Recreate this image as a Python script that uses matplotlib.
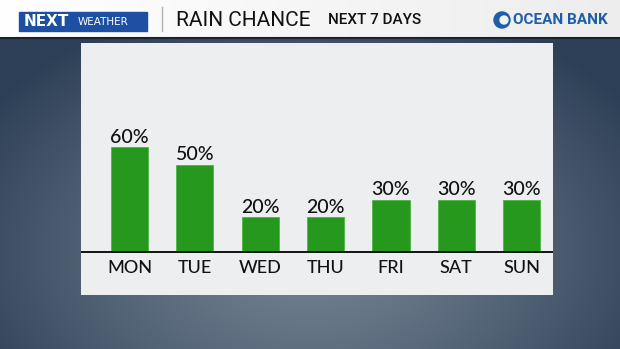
import matplotlib
matplotlib.use("Agg")
from matplotlib import pyplot as plt
from matplotlib.patches import Rectangle, Circle
import numpy as np

days = ["MON", "TUE", "WED", "THU", "FRI", "SAT", "SUN"]
chance = [60, 50, 20, 20, 30, 30, 30]
title = "RAIN CHANCE"
subtitle = "NEXT 7 DAYS"

W, H = 620, 349
fig = plt.figure(figsize=(W / 100, H / 100), dpi=100)

# background: slate blue, darker at the top, lighter in the middle
bg = fig.add_axes([0, 0, 1, 1])
yy, xx = np.mgrid[0:H, 0:W]
d = np.sqrt(((xx - 310) / 380) ** 2 + ((yy - 250) / 260) ** 2)
t = np.clip(d, 0, 1) ** 1.3
c_in = np.array([0.45, 0.51, 0.57])
c_out = np.array([0.18, 0.25, 0.34])
img = c_in[None, None, :] * (1 - t[..., None]) + c_out[None, None, :] * t[..., None]
bg.imshow(img, extent=[0, W, H, 0], aspect="auto")
bg.set_xlim(0, W)
bg.set_ylim(H, 0)
bg.axis("off")

# header band
hdr = np.linspace(1.0, 0.93, W)
hdr_img = np.tile(hdr, (37, 1))
bg.imshow(np.dstack([hdr_img] * 3), extent=[0, W, 37, 0], aspect="auto")
bg.plot([0, W], [37.5, 37.5], color="#1a2230", lw=1.5)
bg.add_patch(Rectangle((19, 12), 128, 19, color="#1d4fa3"))
bg.text(24, 21.5, "NEXT", color="white", fontsize=11, fontweight="bold",
        family="DejaVu Sans", va="center", ha="left")
bg.text(78, 22, "WEATHER", color="white", fontsize=7.5, family="DejaVu Sans",
        va="center", ha="left")
bg.plot([162, 162], [7, 31], color="#b0b0b0", lw=1)
bg.text(176, 20, title, color="#111111", fontsize=15, family="Roboto",
        va="center", ha="left")
bg.text(328, 20, subtitle, color="#111111", fontsize=11, family="Roboto",
        fontweight="medium", va="center", ha="left")
bg.add_patch(Circle((502, 20), 8, color="#1e5ea8"))
bg.add_patch(Circle((504, 20), 4, color="#f2f2f2"))
bg.text(513, 20, "OCEAN BANK", color="#1e5ea8", fontsize=11, family="Roboto",
        fontweight="bold", va="center", ha="left")

# chart panel
left, right, top, bottom = 81, 553, 43, 295
ax = fig.add_axes([left / W, (H - bottom) / H, (right - left) / W, (bottom - top) / H])
ax.set_facecolor("#eceef0")
x = np.arange(len(days))
ax.bar(x, chance, width=0.57, color="#25981d", edgecolor="#4cb544", linewidth=0.6)
ax.axhline(0, color="#111111", lw=1.4)
for xi, v in zip(x, chance):
    ax.text(xi, v + 1.0, f"{v}%", ha="center", va="bottom", fontsize=14,
            family="Lato", fontweight="medium", color="#111111")
    ax.text(xi, -4.2, days[xi], ha="center", va="top", fontsize=13,
            family="Lato", fontweight="medium", color="#111111")
ax.set_xlim(-0.742, 6.48)
ax.set_ylim(-24.3, 119.7)
ax.set_xticks([])
ax.set_yticks([])
for s in ax.spines.values():
    s.set_visible(False)

fig.savefig("out.png", dpi=100)
